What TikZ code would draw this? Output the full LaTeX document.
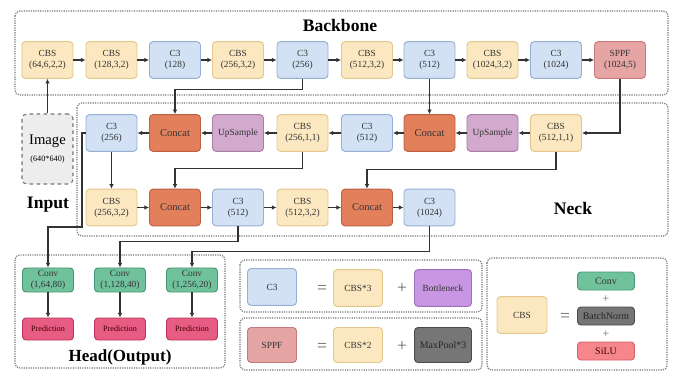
\documentclass[tikz,border=0pt]{standalone}
\usepackage{fontspec}
\setmainfont{Liberation Serif}
\usetikzlibrary{arrows.meta, positioning, calc}
\definecolor{cbsfill}{RGB}{251, 232, 192}
\definecolor{cbsdraw}{RGB}{228, 198, 140}
\definecolor{cthfill}{RGB}{210, 225, 244}
\definecolor{cthdraw}{RGB}{150, 175, 210}
\definecolor{sppffill}{RGB}{230, 165, 165}
\definecolor{sppfdraw}{RGB}{200, 122, 122}
\definecolor{catfill}{RGB}{226, 128, 92}
\definecolor{catdraw}{RGB}{190, 95, 65}
\definecolor{upfill}{RGB}{210, 170, 206}
\definecolor{updraw}{RGB}{170, 125, 165}
\definecolor{convfill}{RGB}{112, 194, 156}
\definecolor{convdraw}{RGB}{70, 150, 115}
\definecolor{predfill}{RGB}{230, 92, 130}
\definecolor{preddraw}{RGB}{190, 50, 90}
\definecolor{bottfill}{RGB}{200, 150, 226}
\definecolor{bottdraw}{RGB}{155, 110, 190}
\definecolor{poolfill}{RGB}{118, 118, 118}
\definecolor{pooldraw}{RGB}{75, 75, 75}
\definecolor{silufill}{RGB}{245, 135, 140}
\definecolor{siludraw}{RGB}{215, 95, 100}
\definecolor{wire}{RGB}{50, 50, 50}

\begin{document}
\begin{tikzpicture}[x=0.03cm, y=-0.03cm,
    blk/.style={rectangle, rounded corners=3pt, line width=0.8pt, minimum width=1.53cm,
      minimum height=1.1cm, align=center, inner sep=1pt, font=\fontsize{8}{9.5}\selectfont, text=black!80},
    cbs/.style={blk, fill=cbsfill, draw=cbsdraw},
    cth/.style={blk, fill=cthfill, draw=cthdraw},
    sppf/.style={blk, fill=sppffill, draw=sppfdraw},
    cat/.style={blk, fill=catfill, draw=catdraw, font=\fontsize{9}{10}\selectfont},
    ups/.style={blk, fill=upfill, draw=updraw},
    conv/.style={blk, fill=convfill, draw=convdraw, minimum height=0.72cm},
    pred/.style={blk, fill=predfill, draw=preddraw, minimum height=0.66cm,
      font=\fontsize{7}{8}\selectfont, text=black!75!red},
    small/.style={blk, minimum width=1.71cm, minimum height=0.54cm, font=\fontsize{8.5}{9}\selectfont},
    group/.style={draw=black!55, densely dotted, line width=1pt, rounded corners=4pt},
    title/.style={font=\fontsize{15}{16}\selectfont\bfseries},
    sym/.style={font=\fontsize{15}{15}\selectfont, text=black!60},
    arr/.style={-{Latex[length=4pt, width=4pt]}, line width=0.9pt, draw=wire}
  ]
    \useasboundingbox (0,0) rectangle (675,372);
    % groups
    \draw[group] (15,11) rectangle (668,95);
    \draw[group] (77,103) rectangle (668,236);
    \draw[group] (15,255) rectangle (225,368);
    \draw[group] (240,260) rectangle (482,312);
    \draw[group] (240,318) rectangle (482,370);
    \draw[group] (487,258) rectangle (667,370);
    \node[title] at (340,25) {Backbone};
    \node[title] at (48,205) {Input};
    \node[title] at (573,208) {Neck};
    \node[title, font=\fontsize{14.5}{16}\selectfont\bfseries] at (120,357) {Head(Output)};
    % backbone
    \node[cbs] (b1) at (47.5,60) {CBS\\(64,6,2,2)};
    \node[cbs] (b2) at (111.5,60) {CBS\\(128,3,2)};
    \node[cth] (b3) at (175,60) {C3\\(128)};
    \node[cbs] (b4) at (238,60) {CBS\\(256,3,2)};
    \node[cth] (b5) at (302.5,60) {C3\\(256)};
    \node[cbs] (b6) at (367,60) {CBS\\(512,3,2)};
    \node[cth] (b7) at (429.5,60) {C3\\(512)};
    \node[cbs] (b8) at (492.5,60) {CBS\\(1024,3,2)};
    \node[cth] (b9) at (556,60) {C3\\(1024)};
    \node[sppf] (b10) at (620,60) {SPPF\\(1024,5)};
    \foreach \a/\b in {b1/b2, b2/b3, b3/b4, b4/b5, b5/b6, b6/b7, b7/b8, b8/b9, b9/b10}
      \draw[arr] (\a) -- (\b);
    % input
    \node[draw=black!55, dashed, line width=0.9pt, rounded corners=4pt, fill=black!7,
      minimum width=1.53cm, minimum height=2.1cm, align=center] (img) at (47.5,149)
      {\fontsize{12.5}{14}\selectfont Image\\[2pt]\fontsize{7}{8}\selectfont (640*640)};
    \draw[arr] (img) -- (b1);
    % neck, upper row
    \node[cth] (n2) at (111.5,133) {C3\\(256)};
    \node[cat] (n3) at (175,133) {Concat};
    \node[ups] (n4) at (238,133) {UpSample};
    \node[cbs] (n5) at (302.5,133) {CBS\\(256,1,1)};
    \node[cth] (n6) at (367,133) {C3\\(512)};
    \node[cat] (n7) at (429.5,133) {Concat};
    \node[ups] (n8) at (492.5,133) {UpSample};
    \node[cbs] (n9) at (556,133) {CBS\\(512,1,1)};
    \foreach \a/\b in {n9/n8, n8/n7, n7/n6, n6/n5, n5/n4, n4/n3, n3/n2}
      \draw[arr] (\a) -- (\b);
    % neck, lower row
    \node[cbs] (m2) at (111.5,207.5) {CBS\\(256,3,2)};
    \node[cat] (m3) at (175,207.5) {Concat};
    \node[cth] (m4) at (238,207.5) {C3\\(512)};
    \node[cbs] (m5) at (302.5,207.5) {CBS\\(512,3,2)};
    \node[cat] (m6) at (367,207.5) {Concat};
    \node[cth] (m7) at (429.5,207.5) {C3\\(1024)};
    \foreach \a/\b in {m2/m3, m3/m4, m4/m5, m5/m6, m6/m7}
      \draw[arr] (\a) -- (\b);
    % links between rows
    \draw[arr] (b5.south) -- ++(0,11) -| (n3.north);
    \draw[arr] (b7) -- (n7);
    \draw[arr] (b10.south) |- (n9.east);
    \draw[arr] (n9.south) -- ++(0,18) -| (m6.north);
    \draw[arr] (n5.south) -- ++(0,17) -| (m3.north);
    \draw[arr] (n2) -- (m2);
    % head
    \node[conv] (h1) at (48,280) {Conv\\(1,64,80)};
    \node[conv] (h2) at (120,280) {Conv\\(1,128,40)};
    \node[conv] (h3) at (192,280) {Conv\\(1,256,20)};
    \node[pred] (p1) at (48,329) {Prediction};
    \node[pred] (p2) at (120,329) {Prediction};
    \node[pred] (p3) at (192,329) {Prediction};
    \foreach \i in {1,2,3}
      \draw[arr] (h\i) -- (p\i);
    \coordinate (t1) at (82,227);
    \draw[arr] (n2.west) -| (t1) -| (h1.north);
    \draw[arr] (m4.south) -- ++(0,15) -| (h2.north);
    \draw[arr] (m7.south) -- ++(0,25) -| (h3.north);
    % legend C3
    \node[cth, minimum width=1.47cm] (lc) at (272,287) {C3};
    \node[sym] (eq1) at (322,289) {=};
    \node[cbs, minimum width=1.47cm] (lcb) at (358,288) {CBS*3};
    \node[sym] (pl1) at (402,289) {+};
    \node[blk, fill=bottfill, draw=bottdraw, minimum width=1.71cm] (lbt) at (443,288) {Bottleneck};
    % legend SPPF
    \node[sppf, minimum width=1.47cm, minimum height=1.05cm] (ls) at (272,345) {SPPF};
    \node[sym] (eq2) at (322,347) {=};
    \node[cbs, minimum width=1.47cm, minimum height=1.05cm] (lcb2) at (358,345) {CBS*2};
    \node[sym] (pl2) at (402,347) {+};
    \node[blk, fill=poolfill, draw=pooldraw, minimum width=1.71cm, minimum height=1.05cm,
      font=\fontsize{8.5}{9}\selectfont, text=black!85] (lmp) at (443,345) {MaxPool*3};
    % legend CBS
    \node[cbs, minimum width=1.5cm] (lb) at (522,315) {CBS};
    \node[sym] (eq3) at (565,317) {=};
    \node[small, fill=convfill, draw=convdraw] (lcv) at (606,281) {Conv};
    \node[small, fill=poolfill, draw=pooldraw, text=black!85] (lbn) at (606,316) {BatchNorm};
    \node[small, fill=silufill, draw=siludraw, text=black!75!red] (lsl) at (606,351) {SiLU};
    \node[sym, font=\fontsize{10}{10}\selectfont] (pl3) at (606,299) {+};
    \node[sym, font=\fontsize{10}{10}\selectfont] (pl4) at (606,334) {+};
  \end{tikzpicture}
\end{document}
